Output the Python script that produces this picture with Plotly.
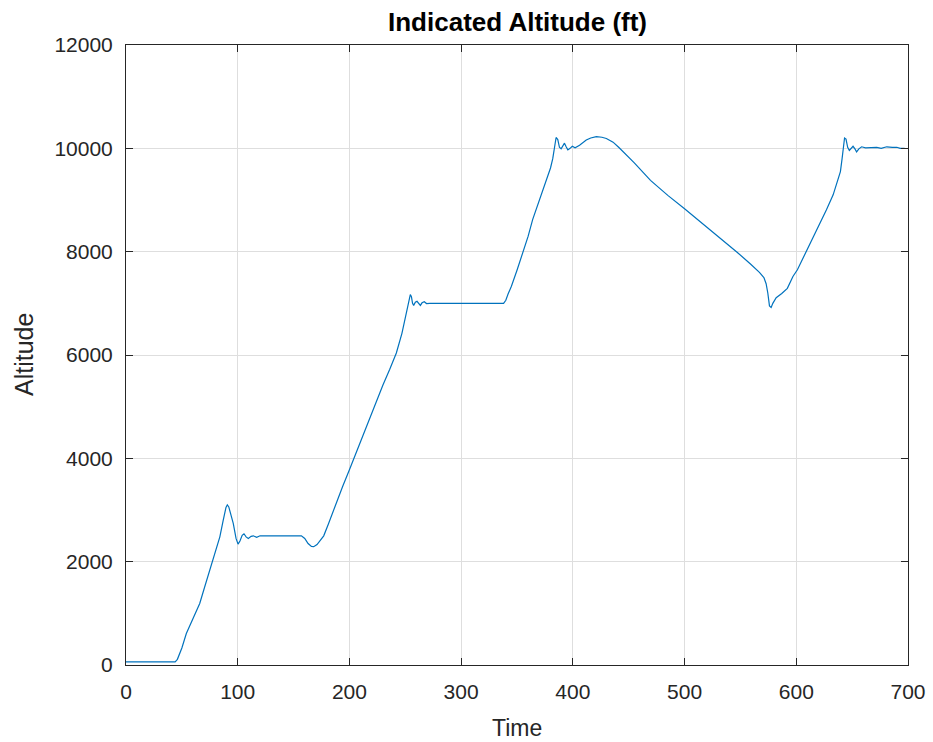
import plotly.graph_objects as go

# Time (s) and indicated altitude (ft)
time_s = [0, 44, 46, 50, 54, 60, 66, 70, 75, 80, 84, 87, 89.5, 90.7, 92, 94, 96, 98.5, 100.3, 102,
          104, 105.6, 107.5, 109.5, 112, 114, 117, 120, 157, 160, 163, 166, 168, 171, 174, 177, 181,
          186, 190, 194, 200, 204, 212, 218, 224, 230, 236, 242, 247, 250, 251.5, 253, 254.5, 255.5,
          256.5, 257.5, 259, 260.5, 262, 263.5, 265, 267, 269, 272, 338, 340, 342, 345, 350, 355,
          360, 364, 368, 373, 377, 380, 382, 383.5, 385, 386.5, 388, 389.5, 391, 392.5, 394, 395.5,
          397.5, 399.5, 402, 406, 412, 416, 421, 426, 430, 436, 441, 446, 455, 469.5, 485, 500, 512,
          523, 535, 547, 559, 567, 571, 573, 574.5, 576, 577.5, 579, 582, 587, 592, 597, 601, 605,
          609, 615, 621, 627, 633, 637, 639.5, 641, 642, 643.2, 644.5, 646, 647.5, 649, 650.8, 652.5,
          654, 656, 658.5, 662, 667, 672, 676, 681, 686, 690, 693, 697]
altitude_ft = [60, 60, 110, 330, 610, 900, 1190, 1480, 1830, 2200, 2480, 2800, 3050, 3100, 3060,
               2900, 2740, 2450, 2340, 2400, 2510, 2540, 2480, 2450, 2490, 2500, 2470, 2500, 2500,
               2450, 2350, 2295, 2290, 2330, 2410, 2500, 2720, 3010, 3230, 3460, 3780, 4000, 4460,
               4790, 5110, 5420, 5720, 6040, 6420, 6720, 6930, 7050, 7170, 7130, 7000, 6960, 7020,
               7040, 6990, 6960, 7010, 7030, 6995, 7000, 7000, 7060, 7180, 7330, 7640, 7950, 8300,
               8620, 8880, 9160, 9420, 9620, 9800, 10000, 10210, 10170, 10020, 9990, 10060, 10100,
               10030, 9970, 10000, 10040, 10010, 10060, 10160, 10200, 10225, 10215, 10190, 10120,
               10020, 9910, 9720, 9380, 9090, 8830, 8620, 8420, 8200, 7990, 7760, 7600, 7500, 7380,
               7200, 6950, 6920, 7000, 7110, 7190, 7290, 7520, 7650, 7830, 8000, 8260, 8520, 8810,
               9100, 9360, 9550, 9800, 10000, 10200, 10180, 10020, 9960, 9990, 10040, 9990, 9930,
               9990, 10030, 10010, 10010, 10020, 10000, 10030, 10020, 10020, 10000, 10000]

x_ticks = [0, 100, 200, 300, 400, 500, 600, 700]
y_ticks = [0, 2000, 4000, 6000, 8000, 10000, 12000]

title_text = "Indicated Altitude (ft)"
x_label = "Time"
y_label = "Altitude"

FONT = "Liberation Sans, Arial, sans-serif"
AX = "#262626"

fig = go.Figure()
fig.add_trace(go.Scatter(x=time_s, y=altitude_ft, mode="lines",
                         line=dict(color="#0072BD", width=1.2), showlegend=False))

axis_common = dict(
    showline=True, linecolor=AX, linewidth=1, mirror="ticks",
    ticks="inside", ticklen=7, tickcolor=AX, tickwidth=1,
    showgrid=True, gridcolor="#dedede", gridwidth=1,
    zeroline=False, tickfont=dict(family=FONT, size=21, color=AX),
)
fig.update_xaxes(range=[0, 700], tickvals=x_ticks, ticktext=[str(v) for v in x_ticks],
                 ticklabelstandoff=8, **axis_common)
fig.update_yaxes(range=[0, 12000], tickvals=y_ticks, ticktext=[str(v) for v in y_ticks],
                 ticklabelstandoff=8, **axis_common)

fig.update_layout(
    width=933, height=742,
    margin=dict(l=126, r=25, t=45, b=77, autoexpand=False),
    paper_bgcolor="white", plot_bgcolor="white",
    annotations=[
        dict(text="<b>" + title_text + "</b>", xref="paper", yref="paper", x=0.5, y=1.037,
             showarrow=False, font=dict(family=FONT, size=26, color="#000000"),
             xanchor="center", yanchor="middle"),
        dict(text=x_label, xref="paper", yref="paper", x=0.5, y=-0.102,
             showarrow=False, font=dict(family=FONT, size=23, color=AX),
             xanchor="center", yanchor="middle"),
        dict(text=y_label, xref="paper", yref="paper", x=-0.1304, y=0.5, textangle=-90,
             showarrow=False, font=dict(family=FONT, size=25, color=AX),
             xanchor="center", yanchor="middle"),
    ],
)

fig.write_html("out.html")
